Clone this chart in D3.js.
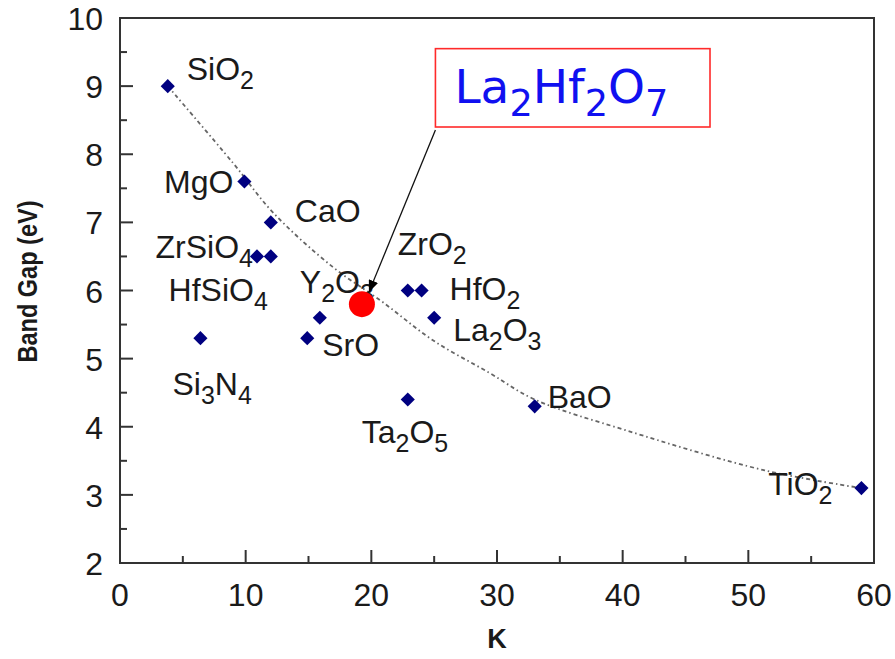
<!DOCTYPE html>
<html>
<head>
<meta charset="utf-8">
<script src="https://cdn.jsdelivr.net/npm/d3@7"></script>
<style>
  body { margin: 0; background: #fff; }
  svg { display: block; }
</style>
</head>
<body>
<div id="graph"></div>
<script>
// Band gap vs dielectric constant for the gate oxides
var materials = ["SiO2", "MgO", "CaO", "ZrSiO4", "HfSiO4", "Si3N4", "Y2O3", "SrO", "ZrO2", "HfO2", "La2O3", "Ta2O5", "BaO", "TiO2"];
var kValues   = [3.8, 9.9, 12, 10.9, 12, 6.4, 15.9, 14.9, 22.9, 24, 25, 22.9, 33, 59];
var gapValues = [9, 7.6, 7, 6.5, 6.5, 5.3, 5.6, 5.3, 6, 6, 5.6, 4.4, 4.3, 3.1];

// dotted trend line
var trendK   = [3.8, 9, 12.2, 16.9, 20.9, 24.9, 29.4, 33, 40.4, 51.3, 59];
var trendGap = [9, 7.87, 7.14, 6.35, 5.83, 5.27, 4.79, 4.4, 3.94, 3.36, 3.1];

// highlighted new material
var newMaterial = "La2Hf2O7";
var newK = 19.25, newGap = 5.8;

var xTicks = [0, 10, 20, 30, 40, 50, 60];
var yTicks = [2, 3, 4, 5, 6, 7, 8, 9, 10];

// label placement, pixel offsets from each point
var labelLayout = {
    "SiO2":   { dx: 19,  dy: -6, anchor: "start" },
    "MgO":    { dx: -11, dy: 11, anchor: "end" },
    "CaO":    { dx: 24,  dy: 0,  anchor: "start" },
    "ZrSiO4": { dx: -4,  dy: 2,  anchor: "end" },
    "HfSiO4": { dx: -3,  dy: 45, anchor: "end" },
    "Si3N4":  { dx: -28, dy: 57, anchor: "start" },
    "Y2O3":   { dx: -20, dy: -25, anchor: "start" },
    "SrO":    { dx: 15,  dy: 18, anchor: "start" },
    "ZrO2":   { dx: -10, dy: -36, anchor: "start" },
    "HfO2":   { dx: 28,  dy: 9,  anchor: "start" },
    "La2O3":  { dx: 19,  dy: 23, anchor: "start" },
    "Ta2O5":  { dx: -46, dy: 43, anchor: "start" },
    "BaO":    { dx: 13,  dy: 2,  anchor: "start" },
    "TiO2":   { dx: -29, dy: 7,  anchor: "end" }
};

var width = 895, height = 659;
var margin = { top: 18, right: 21, bottom: 96, left: 120 };

var svg = d3.select("#graph").append("svg")
    .attr("width", width)
    .attr("height", height);

var x = d3.scaleLinear().domain([0, 60]).range([margin.left, width - margin.right]);
var y = d3.scaleLinear().domain([2, 10]).range([height - margin.bottom, margin.top]);

var font = "'Liberation Sans', Arial, Helvetica, sans-serif";
var axisColor = "#333";
var textColor = "#1a1a1a";

// frame
svg.append("rect")
    .attr("x", x(0))
    .attr("y", y(10))
    .attr("width", x(60) - x(0))
    .attr("height", y(2) - y(10))
    .style("fill", "none")
    .style("stroke", axisColor)
    .style("stroke-width", 2);

// inward ticks, major every unit, minor halfway
d3.range(0, 60.01, 5).forEach(function(v) {
    var major = v % 10 === 0;
    svg.append("line")
        .attr("x1", x(v)).attr("x2", x(v))
        .attr("y1", y(2)).attr("y2", y(2) - (major ? 13 : 7))
        .style("stroke", axisColor).style("stroke-width", 2);
});
d3.range(2, 10.01, 0.5).forEach(function(v) {
    var major = v % 1 === 0;
    svg.append("line")
        .attr("x1", x(0)).attr("x2", x(0) + (major ? 13 : 7))
        .attr("y1", y(v)).attr("y2", y(v))
        .style("stroke", axisColor).style("stroke-width", 2);
});

xTicks.forEach(function(v) {
    svg.append("text")
        .attr("x", x(v))
        .attr("y", y(2) + 43)
        .attr("text-anchor", "middle")
        .style("font-family", font)
        .style("font-size", "32px")
        .style("fill", textColor)
        .text(v);
});
yTicks.forEach(function(v) {
    svg.append("text")
        .attr("x", x(0) - 17)
        .attr("y", y(v) + 12)
        .attr("text-anchor", "end")
        .style("font-family", font)
        .style("font-size", "32px")
        .style("fill", textColor)
        .text(v);
});

// axis titles
svg.append("text")
    .attr("x", (x(0) + x(60)) / 2)
    .attr("y", 648)
    .attr("text-anchor", "middle")
    .style("font-family", font)
    .style("font-size", "27px")
    .style("font-weight", "bold")
    .style("fill", textColor)
    .text("K");

svg.append("text")
    .attr("transform", "translate(37," + ((y(2) + y(10)) / 2 - 9) + ") rotate(-90)")
    .attr("text-anchor", "middle")
    .attr("textLength", 162)
    .attr("lengthAdjust", "spacingAndGlyphs")
    .style("font-family", font)
    .style("font-size", "27px")
    .style("font-weight", "bold")
    .style("fill", textColor)
    .text("Band Gap (eV)");

// trend line
var trend = trendK.map(function(k, i) { return [k, trendGap[i]]; });
svg.append("path")
    .datum(trend)
    .attr("d", d3.line()
        .x(function(d) { return x(d[0]); })
        .y(function(d) { return y(d[1]); })
        .curve(d3.curveCatmullRom))
    .style("fill", "none")
    .style("stroke", "#666")
    .style("stroke-width", 1.8)
    .style("stroke-dasharray", "4,3,1.5,3");

// chemical formula with subscript digits
function formula(sel, text, size, shift) {
    var parts = text.match(/[A-Za-z]+|\d+/g);
    var down = false;
    parts.forEach(function(p) {
        var sub = /\d/.test(p);
        var t = sel.append("tspan").text(p);
        if (sub) {
            t.style("font-size", (size * 0.78) + "px");
            if (!down) t.attr("dy", shift);
        } else if (down) {
            t.attr("dy", -shift);
        }
        down = sub;
    });
}

var points = materials.map(function(m, i) {
    return { name: m, k: kValues[i], gap: gapValues[i] };
});

points.forEach(function(d) {
    var l = labelLayout[d.name];
    var t = svg.append("text")
        .attr("x", x(d.k) + l.dx)
        .attr("y", y(d.gap) + l.dy)
        .attr("text-anchor", l.anchor)
        .style("font-family", font)
        .style("font-size", "32px")
        .style("fill", textColor);
    formula(t, d.name, 32, 9);
});

svg.selectAll("rect.pt")
    .data(points)
    .enter().append("rect")
    .attr("class", "pt")
    .attr("x", -5).attr("y", -5)
    .attr("width", 10).attr("height", 10)
    .attr("transform", function(d) {
        return "translate(" + x(d.k) + "," + y(d.gap) + ") rotate(45)";
    })
    .style("fill", "#000080");

// new material: red dot, boxed label, arrow
svg.append("circle")
    .attr("cx", x(newK))
    .attr("cy", y(newGap))
    .attr("r", 13)
    .style("fill", "#ff0000");

var box = { k0: 25.1, gap0: 9.55, k1: 46.95, gap1: 8.4 };
svg.append("rect")
    .attr("x", x(box.k0))
    .attr("y", y(box.gap0))
    .attr("width", x(box.k1) - x(box.k0))
    .attr("height", y(box.gap1) - y(box.gap0))
    .style("fill", "#fff")
    .style("stroke", "#ff2a2a")
    .style("stroke-width", 1.6);

var nt = svg.append("text")
    .attr("x", x(box.k0) + 19)
    .attr("y", y(box.gap0) + 54)
    .style("font-family", "'DejaVu Sans', Verdana, sans-serif")
    .style("font-size", "47px")
    .style("fill", "#1010f0");
formula(nt, newMaterial, 47, 13);

svg.append("defs").append("marker")
    .attr("id", "arrow")
    .attr("viewBox", "0 0 12 10")
    .attr("refX", 12).attr("refY", 5)
    .attr("markerWidth", 12).attr("markerHeight", 10)
    .attr("markerUnits", "userSpaceOnUse")
    .attr("orient", "auto")
    .append("path")
    .attr("d", "M0,0L12,5L0,10Z")
    .style("fill", "#000");

svg.append("line")
    .attr("x1", x(box.k0))
    .attr("y1", y(box.gap1) + 3)
    .attr("x2", x(newK) + 7)
    .attr("y2", y(newGap) - 12)
    .attr("marker-end", "url(#arrow)")
    .style("stroke", "#111")
    .style("stroke-width", 1.3);
</script>
</body>
</html>
